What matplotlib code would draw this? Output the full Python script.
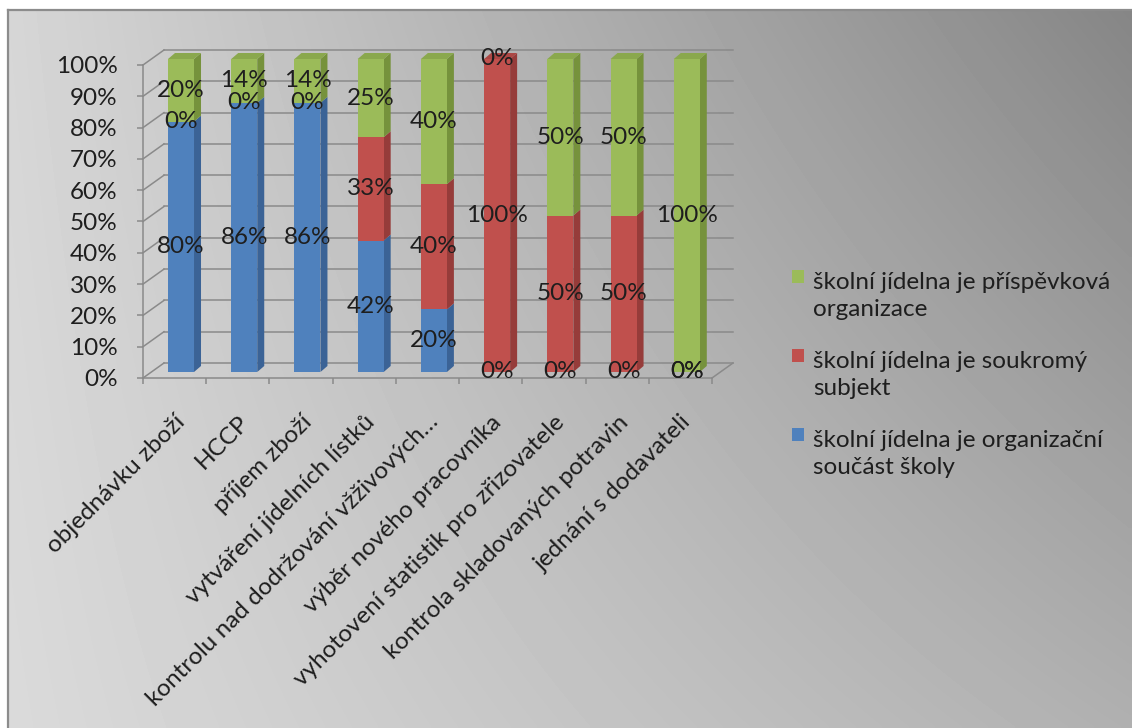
import numpy as np
import matplotlib
matplotlib.use("Agg")
import matplotlib.pyplot as plt
from matplotlib.patches import Polygon, Rectangle
from matplotlib.transforms import ScaledTranslation
from matplotlib.ticker import PercentFormatter, FixedLocator

plt.rcParams['font.family'] = ['Lato', 'DejaVu Sans']

categories = ["objednávku zboží", "HCCP", "příjem zboží", "vytváření jídelních lístků",
              "kontrolu nad dodržování vžživových…", "výběr nového pracovníka",
              "vyhotovení statistik pro zřizovatele", "kontrola skladovaných potravin",
              "jednání s dodavateli"]
series_names = ["školní jídelna je organizační\nsoučást školy",
                "školní jídelna je soukromý\nsubjekt",
                "školní jídelna je příspěvková\norganizace"]
blue_vals = [80, 86, 86, 42, 20, 0, 0, 0, 0]
red_vals = [0, 0, 0, 33, 40, 100, 50, 50, 0]
green_vals = [20, 14, 14, 25, 40, 0, 50, 50, 100]
y_ticks = [0, 10, 20, 30, 40, 50, 60, 70, 80, 90, 100]

front_colors = ["#4f81bd", "#c0504d", "#9bbb59"]
side_colors = ["#3b6396", "#963c3a", "#76923c"]
top_colors = ["#4674ab", "#ac4744", "#8aa84d"]
grid_color = "#8a8a8a"
text_color = "#1e1e1e"
FS = 17.5

W, H = 1132, 728
fig = plt.figure(figsize=(W / 100, H / 100), dpi=100)
fig.patch.set_facecolor("white")

# ---- gradient background with frame ----
bg = fig.add_axes([8 / W, 0, 1 - 8 / W, (H - 10) / H], zorder=-10)
gx = np.linspace(0, 1, 200)
gy = np.linspace(0, 1, 200)
GX, GY = np.meshgrid(gx, gy)  # GY=0 bottom
c_bl, c_br, c_tl, c_tr = 0xda, 0xb0, 0xd6, 0x86
G = (c_bl * (1 - GX) * (1 - GY) + c_br * GX * (1 - GY) + c_tl * (1 - GX) * GY + c_tr * GX * GY) / 255
bg.imshow(G, cmap="gray", vmin=0, vmax=1, origin="lower", extent=[0, 1, 0, 1], aspect="auto",
          interpolation="bilinear")
bg.set_xticks([]); bg.set_yticks([])
for s in ["right", "bottom"]:
    bg.spines[s].set_visible(False)
for s in ["left", "top"]:
    bg.spines[s].set_color("#8c8c8c")
    bg.spines[s].set_linewidth(1.6)

# ---- main axes (front plane) ----
ax_l, ax_r, ax_t, ax_b = 143, 712, 65, 378
ax = fig.add_axes([ax_l / W, (H - ax_b) / H, (ax_r - ax_l) / W, (ax_b - ax_t) / H])
ax.patch.set_alpha(0)
n = len(categories)
ax.set_xlim(-0.5, n - 0.5)
ax.set_ylim(0, 100)
ux = (ax_r - ax_l) / n      # px per category
uy = (ax_b - ax_t) / 100.0  # px per percent


def off(dxp, dyp):
    return ax.transData + ScaledTranslation(dxp / 100, dyp / 100, fig.dpi_scale_trans)


# back wall / floor
bdx, bdy = 21, 15
bx, by = bdx / ux, bdy / uy
for v in y_ticks:
    ax.plot([-0.5, n - 0.5], [v, v], transform=off(bdx, bdy), color=grid_color, lw=1.1,
            clip_on=False, zorder=1)
    ax.plot([-0.5, -0.5 + bx], [v, v + by], color=grid_color, lw=1.1, clip_on=False, zorder=1)
ax.plot([n - 0.5, n - 0.5 + bx], [0, by], color=grid_color, lw=1.1, clip_on=False, zorder=1)

# bars
x = np.arange(n)
bw = 26 / ux
fdx, fdy = 6.4, 6
tf = off(fdx, fdy)
ddx, ddy = 7 / ux, 6 / uy
series = [blue_vals, red_vals, green_vals]
bottom = np.zeros(n)
tops = [None] * n
for si, vals in enumerate(series):
    vals = np.array(vals, dtype=float)
    bars = ax.bar(x, vals, width=bw, bottom=bottom, color=front_colors[si], zorder=3,
                  clip_on=False, linewidth=0)
    for p in bars:
        p.set_transform(tf)
    for i in range(n):
        if vals[i] > 0:
            xr = x[i] + bw / 2
            b0, b1 = bottom[i], bottom[i] + vals[i]
            side = Polygon([(xr, b0), (xr + ddx, b0 + ddy), (xr + ddx, b1 + ddy), (xr, b1)],
                           closed=True, facecolor=side_colors[si], edgecolor="none",
                           transform=tf, zorder=2.9, clip_on=False)
            ax.add_patch(side)
            tops[i] = (si, b1)
    bottom = bottom + vals

for i in range(n):
    si, b1 = tops[i]
    xl, xr = x[i] - bw / 2, x[i] + bw / 2
    top = Polygon([(xl, b1), (xr, b1), (xr + ddx, b1 + ddy), (xl + ddx, b1 + ddy)], closed=True,
                  facecolor=top_colors[si], edgecolor="none", transform=tf, zorder=2.9,
                  clip_on=False)
    ax.add_patch(top)

# data labels
bottom = np.zeros(n)
for si, vals in enumerate(series):
    for i in range(n):
        ax.text(x[i], bottom[i] + vals[i] / 2, f"{vals[i]}%", transform=tf, ha="center",
                va="center", fontsize=FS, color=text_color, zorder=5, clip_on=False)
    bottom = bottom + np.array(vals)

# axes styling
for s in ["top", "right"]:
    ax.spines[s].set_visible(False)
for s in ["left", "bottom"]:
    ax.spines[s].set_color(grid_color)
    ax.spines[s].set_linewidth(1.1)
ax.set_yticks(y_ticks)
ax.yaxis.set_major_formatter(PercentFormatter(xmax=100, decimals=0))
ax.tick_params(axis="y", length=4.3, width=1.1, color=grid_color, pad=14, labelsize=FS,
               labelcolor=text_color)
ax.set_xticks(x)
ax.set_xticklabels(categories, rotation=45, ha="right", rotation_mode="anchor")
ax.xaxis.set_minor_locator(FixedLocator(np.arange(-0.5, n, 1.0)))
ax.tick_params(axis="x", which="major", length=0, pad=24, labelsize=FS, labelcolor=text_color)
ax.tick_params(axis="x", which="minor", length=4.3, width=1.1, color=grid_color)

# legend (manual, marker aligned with first text line)
leg_order = [2, 1, 0]
leg_base1 = [285, 364, 443]   # first line baseline (px from top)
leg_gap = 31
for k, si in enumerate(leg_order):
    yb = leg_base1[k]
    fig.patches.append(Rectangle((792 / W, (H - yb + 2) / H), 12 / W, 13 / H,
                                 transform=fig.transFigure, facecolor=front_colors[si],
                                 edgecolor="none"))
    fig.text(813 / W, (H - yb - leg_gap) / H, series_names[si], ha="left", va="baseline",
             fontsize=FS, color=text_color, linespacing=1.37)

fig.savefig("out.png", dpi=100)
